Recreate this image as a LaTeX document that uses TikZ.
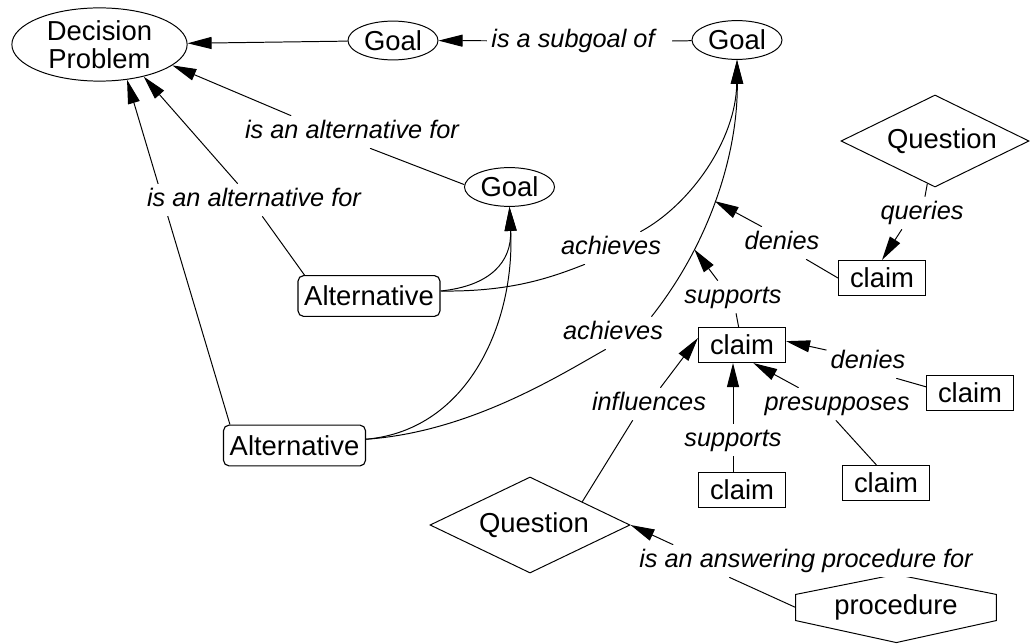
\documentclass[tikz,border=0pt]{standalone}
\usepackage{fontspec}
\setmainfont{Liberation Sans}
\usetikzlibrary{shapes.geometric, arrows.meta, backgrounds}

\tikzset{
	concept/.style ={ellipse, draw=black, line width=0.7pt, inner sep=0pt, align=center, font=\fontsize{19.5}{19.5}\selectfont},
	goal/.style    ={concept, minimum width=2.25cm, minimum height=0.97cm},
	option/.style  ={rectangle, rounded corners=4pt, draw=black, line width=0.8pt, minimum width=3.55cm, minimum height=1.02cm, inner sep=0pt, font=\fontsize{19.5}{22}\selectfont},
	claimbox/.style={rectangle, draw=black, line width=0.9pt, minimum width=2.17cm, minimum height=0.87cm, inner sep=0pt, font=\fontsize{19.5}{22}\selectfont},
	query/.style   ={diamond, aspect=2, draw=black, line width=0.7pt, inner sep=0pt, font=\fontsize{19.5}{22}\selectfont},
	rel/.style     ={fill=white, inner sep=0.1cm, text height=13.5pt, text depth=3.6pt, font=\fontsize{18}{18}\selectfont\itshape},
	link/.style    ={line width=0.7pt},
	arr/.style     ={link, -{Triangle[length=6mm, width=3mm]}},
}

\begin{document}
\begin{tikzpicture}[x=0.025cm, y=-0.025cm]
	\useasboundingbox (0,0) rectangle (1030,643);
	% concepts
	\node[concept, minimum width=4.38cm, minimum height=1.83cm] (dp) at (99.5,44.5) {Decision\\Problem};
	\node[goal] (goalA) at (393,40.5) {Goal};
	\node[goal] (goalB) at (737,40) {Goal};
	\node[goal] (goalC) at (509.5,187) {Goal};
	\node[option] (alt1) at (369,296) {Alternative};
	\node[option] (alt2) at (294.5,445.5) {Alternative};
	\node[query, minimum width=4.7cm, minimum height=2.3cm] (q1) at (935,141) {\hspace{0.35cm}Question};
	\node[query, minimum width=5cm, minimum height=2.4cm] (q2) at (530,525) {\hspace{0.2cm}Question};
	\node[claimbox] (claim1) at (882,278) {claim};
	\node[claimbox] (claimC) at (742,345) {claim};
	\node[claimbox] (claimR) at (970,393) {claim};
	\node[claimbox] (claimB) at (742,490) {claim};
	\node[claimbox] (claimP) at (886,483) {claim};
	\node[minimum width=5cm, minimum height=0.53cm, inner sep=0pt, font=\fontsize{19.5}{22}\selectfont] (proc) at (896,607.5) {procedure};
	\draw[link] (proc.north west) -- ++(100,-20) -- (proc.north east) -- (proc.south east) -- ++(-100,22) -- (proc.south west) -- cycle;
	% relation labels
	\node[rel] (lsub) at (573,41) {is a subgoal of};
	\node[rel] (lalt1) at (352,132) {is an alternative for};
	\node[rel] (lalt2) at (254,200) {is an alternative for};
	\node[rel] (lach1) at (611,248) {achieves};
	\node[rel] (lach2) at (613,333) {achieves};
	\node[rel] (ldeny1) at (782,243) {denies};
	\node[rel] (lsup1) at (733,297) {supports};
	\node[rel] (lqry) at (922,213) {queries};
	\node[rel] (ldeny2) at (868,362) {denies};
	\node[rel] (lpre) at (837,404) {presupposes};
	\node[rel] (lsup2) at (733,440) {supports};
	\node[rel] (linf) at (649,404) {influences};
	\node[rel] (lans) at (806,561) {is an answering procedure for};
	% links
	\begin{scope}[on background layer]
	\draw[arr] (goalA) -- (dp);
	\draw[link] (goalB) -- ([xshift=0.33cm]lsub.east);
	\draw[arr] (lsub) -- (goalA);
	\draw[link] (goalC.177) -- (lalt1.-42);
	\draw[arr] (lalt1.165) -- (dp.-16);
	\draw[link] (alt1.162) -- (lalt2.-63);
	\draw[arr] (lalt2.135) -- (dp.-36);
	\draw[arr] (alt2.162) -- (dp.-52);
	\draw[arr] (alt1.4) .. controls (490,286) and (512,262) .. (goalC.south);
	\draw[arr] (alt2.5) .. controls (470,430) and (515,320) .. (goalC.south);
	\draw[link] (alt1.4) .. controls (510,292) and (550,278) .. (lach1.-148);
	\draw[arr] (lach1.29) .. controls (690,205) and (736,140) .. (goalB.south);
	\draw[link] (alt2.5) .. controls (470,432) and (560,375) .. (lach2.-114);
	\draw[arr] (lach2.23) .. controls (712,240) and (738,150) .. (goalB.south) coordinate[pos=0.28] (onSup) coordinate[pos=0.47] (onDen);
	\draw[link] (claim1.west) -- (ldeny1.-34);
	\draw[arr] (ldeny1.141) -- (onDen);
	\draw[link] (claimC) -- (lsup1);
	\draw[arr] (lsup1.133) -- (onSup);
	\draw[link] (q1) -- (lqry);
	\draw[arr] (lqry.-141) -- (claim1.north);
	\draw[link] (claimR.172) -- (ldeny2.-30);
	\draw[arr] (ldeny2.164) -- (claimC.5);
	\draw[link] (claimP.118) -- (lpre.-94);
	\draw[arr] (lpre.157) -- (claimC.-58);
	\draw[link] (lsup2) -- (lsup2 |- claimB.north);
	\draw[arr] (lsup2) -- (lsup2 |- claimC.south);
	\draw[link] (q2.24) -- (linf.-135);
	\draw[arr] (linf.55) -- (claimC.171);
	\draw[link] (proc.west) -- (lans.-168);
	\draw[arr] (lans.173) -- (q2.east);
	\end{scope}
\end{tikzpicture}
\end{document}
